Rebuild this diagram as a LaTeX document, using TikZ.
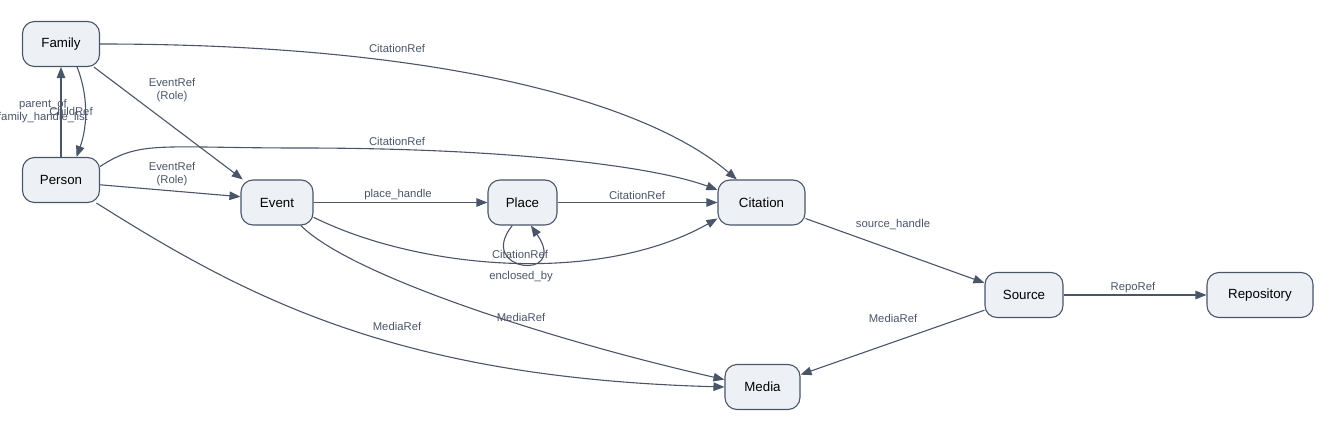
\documentclass[tikz,border=0pt]{standalone}
\usepackage{fontspec}
\setmainfont{Liberation Sans}
\usetikzlibrary{arrows.meta}

\definecolor{edgec}{HTML}{4A5568}
\definecolor{boxfill}{HTML}{EDF1F6}

\begin{document}
\begin{tikzpicture}[x=1pt, y=-1pt,
  ent/.style={draw=edgec, line width=1.1pt, fill=boxfill, rounded corners=12pt,
    minimum height=45pt, inner sep=0pt, font=\fontsize{13.3}{15}\selectfont},
  lbl/.style={text=edgec, inner sep=0pt, align=center, font=\fontsize{11.3}{13.5}\selectfont},
  ref/.style={draw=edgec, line width=1.1pt, -{Triangle[length=11pt,width=8.5pt]}}]
  \useasboundingbox (0,0) rectangle (1336,433);

  % entities
  \node[ent, minimum width=77pt] (fam) at (61,44) {Family};
  \node[ent, minimum width=77pt] (per) at (61,180) {Person};
  \node[ent, minimum width=72pt] (evt) at (277,202.5) {Event};
  \node[ent, minimum width=69pt] (plc) at (522.5,202.5) {Place};
  \node[ent, minimum width=87pt] (cit) at (761.5,202.5) {Citation};
  \node[ent, minimum width=78pt] (src) at (1024,295) {Source};
  \node[ent, minimum width=106pt] (repo) at (1260,295) {Repository};
  \node[ent, minimum width=75pt] (med) at (762.5,387) {Media};

  % family and person links
  \draw[ref] (fam.east) .. controls (450,44) and (650,105) .. (cit.137);
  \draw[ref] (fam.-35) -- (evt.146);
  \draw[ref] (per.north) -- (fam.south);
  \draw[ref] (fam.-55) .. controls (88,95) and (88,125) .. (per.56);
  \draw[ref] (per.19) .. controls (140,140) and (160,148) .. (300,148)
    .. controls (500,148) and (650,165) .. (cit.164);
  \draw[ref] (per.-7) -- (evt.171);
  \draw[ref] (per.-33) .. controls (250,300) and (400,378) .. (med.west);

  % event and place links
  \draw[ref] (evt.east) -- (plc.west);
  \draw[ref] (plc.east) -- (cit.west);
  \draw[ref] (evt.-22) .. controls (420,270) and (600,285) .. (cit.-160);
  \draw[ref] (plc.-114) .. controls (475,272) and (570,282) .. (plc.-70);
  \draw[ref] (evt.-44) .. controls (350,275) and (550,340) .. (med.169);

  % source links
  \draw[ref] (cit.-20) -- (src.163);
  \draw[ref] (src.east) -- (repo.west);
  \draw[ref] (src.-159) -- (med.18);

  % edge labels
  \node[lbl] (l1) at (397,48) {CitationRef};
  \node[lbl] (l2) at (172,90) {EventRef\\(Role)};
  \node[lbl] (l3) at (43,111) {parent\_of\\family\_handle\_list};
  \node[lbl] (l4) at (71,111) {ChildRef};
  \node[lbl] (l5) at (397,141) {CitationRef};
  \node[lbl] (l6) at (172,174) {EventRef\\(Role)};
  \node[lbl] (l7) at (398,195) {place\_handle};
  \node[lbl] (l8) at (637,195) {CitationRef};
  \node[lbl] (l9) at (520,254) {CitationRef};
  \node[lbl] (l10) at (521,277) {enclosed\_by};
  \node[lbl] (l11) at (397,326) {MediaRef};
  \node[lbl] (l12) at (521,317) {MediaRef};
  \node[lbl] (l13) at (893,225) {source\_handle};
  \node[lbl] (l14) at (1133,288) {RepoRef};
  \node[lbl] (l15) at (893,318) {MediaRef};
\end{tikzpicture}
\end{document}
